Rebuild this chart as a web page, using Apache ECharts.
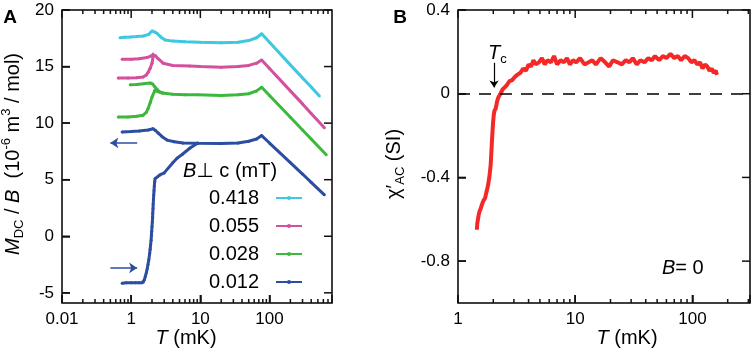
<!DOCTYPE html>
<html>
<head>
<meta charset="utf-8">
<script src="https://cdn.jsdelivr.net/npm/echarts@6/dist/echarts.min.js"></script>
<style>
  html, body { margin: 0; background: #fff; }
  #wrap { position: relative; width: 754px; height: 353px; }
  #chartA, #chartB { position: absolute; top: 0; width: 377px; height: 353px; }
  #chartA { left: 0; }
  #chartB { left: 377px; }
</style>
</head>
<body>
<div id="wrap"><div id="chartA"></div><div id="chartB"></div></div>
<script>
// ---- panel A: M_DC/B vs T, four fields ----
const fieldLabels = ["0.418", "0.055", "0.028", "0.012"];
const fieldColors = ["#3fc8e0", "#d4509e", "#3db83d", "#2b4ea2"];

const tCyan = [0.69, 0.8, 0.97, 1.2, 1.5, 1.8, 2.0, 2.2, 2.4, 2.7, 3.1, 4, 6, 10, 20, 35, 50, 65, 77, 100, 200, 300, 400, 525];
const vCyan = [17.55, 17.6, 17.62, 17.65, 17.7, 17.85, 18.15, 18.05, 17.9, 17.6, 17.35, 17.25, 17.2, 17.15, 17.1, 17.15, 17.3, 17.55, 17.9, 17.15, 15.15, 14.0, 13.2, 12.4];

const tMagUp = [0.74, 1.0, 1.3, 1.7, 1.95, 2.07, 2.25, 2.45, 2.9, 4, 7, 10, 20, 35, 50, 65, 77, 100, 200, 300, 400, 620];
const vMagUp = [15.65, 15.65, 15.7, 15.8, 15.95, 16.1, 15.95, 15.7, 15.3, 15.1, 15.05, 15.0, 14.95, 15.0, 15.1, 15.3, 15.58, 14.83, 12.85, 11.7, 10.85, 9.6];
const tMagLo = [0.65, 0.9, 1.2, 1.49, 1.65, 1.76, 1.88, 2.0, 2.07];
const vMagLo = [14.0, 14.0, 14.02, 14.08, 14.25, 14.5, 14.85, 15.3, 15.85];

const tGrnUp = [0.97, 1.2, 1.5, 1.88, 2.05, 2.2, 2.4, 2.6, 3, 4, 6, 9.2, 20, 35, 50, 65, 77, 100, 200, 300, 400, 660];
const vGrnUp = [13.4, 13.42, 13.48, 13.55, 13.45, 13.2, 12.95, 12.75, 12.65, 12.55, 12.5, 12.5, 12.45, 12.5, 12.6, 12.85, 13.17, 12.44, 10.52, 9.4, 8.6, 7.2];
const tGrnLo = [0.65, 0.9, 1.2, 1.49, 1.65, 1.76, 1.88, 2.0, 2.2, 2.4, 2.8];
const vGrnLo = [10.55, 10.55, 10.6, 10.7, 10.95, 11.3, 11.8, 12.3, 12.9, 12.8, 12.65];

const tBluUp = [0.74, 1.0, 1.3, 1.76, 2.07, 2.25, 2.45, 2.8, 3.3, 4.2, 5.6, 9.2, 20, 35, 50, 65, 77, 100, 200, 300, 400, 620];
const vBluUp = [9.22, 9.25, 9.3, 9.4, 9.5, 9.35, 9.13, 8.8, 8.5, 8.35, 8.25, 8.22, 8.2, 8.25, 8.4, 8.6, 8.9, 8.24, 6.51, 5.5, 4.77, 3.66];
const tBluLo = [0.74, 0.85, 1.0, 1.15, 1.3, 1.44, 1.5, 1.55, 1.6, 1.65, 1.7, 1.75, 1.8, 1.85, 1.88, 1.91, 1.94, 1.96, 1.98, 2.0, 2.02, 2.04, 2.05, 2.07, 2.08, 2.1, 2.12, 2.14, 2.16, 2.19, 2.22, 2.4, 2.6, 3.0, 4.0, 4.6, 5.5, 7.1, 9.2];
const vBluLo = [-4.15, -4.12, -4.1, -4.12, -4.12, -4.1, -4.05, -3.85, -3.55, -3.25, -2.9, -2.5, -2.05, -1.55, -1.15, -0.75, -0.35, 0.05, 0.45, 0.85, 1.25, 1.65, 2.05, 2.45, 2.85, 3.25, 3.65, 4.05, 4.45, 4.85, 5.1, 5.25, 5.42, 5.6, 6.5, 6.9, 7.25, 7.8, 8.25];

// arrows marking FC / ZFC branches
const arrowT = [0.5, 1.22];
const arrowLeftV = 8.25;
const arrowRightV = -2.8;

const xRangeA = [0.1, 800];
const yRangeA = [-5.9, 20];
const xTicksA = [0.1, 1, 10, 100];
const xLabelsA = ["0.01", "1", "10", "100"];
const xMinorA = [0.2, 0.3, 0.4, 0.5, 0.6, 0.7, 0.8, 0.9, 2, 3, 4, 5, 6, 7, 8, 9, 20, 30, 40, 50, 60, 70, 80, 90, 200, 300, 400, 500, 600, 700];
const yTicksA = [-5, 0, 5, 10, 15, 20];

// ---- panel B: chi'_AC vs T at B = 0 ----
const tChi = [1.45, 1.46, 1.48, 1.5, 1.53, 1.56, 1.6, 1.65, 1.7, 1.75, 1.8, 1.85, 1.9, 1.93, 1.96, 1.99, 2.02, 2.05, 2.1, 2.15, 2.2, 2.3, 2.4, 2.5, 2.6, 2.75, 2.9, 3.05, 3.2, 3.4, 3.6, 3.8, 4.0, 4.2, 4.4, 4.6, 4.9, 5.2, 5.5, 5.8, 6.2, 6.6, 7.0, 7.5, 8.0, 8.5, 9.0, 9.6, 10.2, 11, 12, 13, 14, 15, 16.5, 18, 19.5, 21, 23, 25, 27, 29, 31, 33.5, 36, 39, 42, 45, 48, 52, 56, 60, 65, 70, 75, 80, 86, 92, 98, 104, 110, 116, 122, 128, 134, 140, 146, 152, 158, 162];
const vChi = [-0.65, -0.62, -0.6, -0.58, -0.56, -0.55, -0.53, -0.51, -0.5, -0.47, -0.44, -0.4, -0.34, -0.27, -0.2, -0.14, -0.1, -0.08, -0.07, -0.04, -0.02, 0.0, 0.02, 0.03, 0.04, 0.06, 0.065, 0.08, 0.09, 0.1, 0.12, 0.11, 0.14, 0.13, 0.16, 0.14, 0.15, 0.17, 0.14, 0.16, 0.15, 0.18, 0.14, 0.16, 0.15, 0.17, 0.14, 0.16, 0.15, 0.17, 0.14, 0.15, 0.16, 0.14, 0.17, 0.15, 0.13, 0.16, 0.15, 0.14, 0.16, 0.15, 0.17, 0.14, 0.16, 0.15, 0.17, 0.16, 0.18, 0.16, 0.18, 0.17, 0.19, 0.17, 0.18, 0.16, 0.18, 0.17, 0.15, 0.16, 0.14, 0.15, 0.12, 0.14, 0.13, 0.11, 0.12, 0.1, 0.11, 0.09];

const tcArrowT = 2.03;
const tcArrowV = [0.148, 0.03];

const xRangeB = [1, 310];
const yRangeB = [-1.0, 0.4];
const xTicksB = [1, 10, 100];
const xLabelsB = ["1", "10", "100"];
const xMinorB = [2, 3, 4, 5, 6, 7, 8, 9, 20, 30, 40, 50, 60, 70, 80, 90, 200, 300];
const yTicksB = [-0.8, -0.4, 0, 0.4];

const FONT = '"Liberation Sans", Arial, "DejaVu Sans", sans-serif';
const BLACK = "#000";
const TICK = "#111";
const MAJOR = 8;
const MINOR = 4;
const TW = 1.5;

const pairs = (t, v) => t.map((x, i) => [x, v[i]]);

function labelFor(v, ticks, labels) {
  const i = ticks.findIndex((t) => Math.abs(Math.log10(t) - Math.log10(v)) < 1e-6);
  return i < 0 ? "" : labels[i];
}

function logAxis(range, ticks, labels) {
  return {
    type: "log", min: range[0], max: range[1],
    axisLine: { show: false, onZero: false },
    splitLine: { show: false },
    axisTick: { show: true, inside: true, length: MAJOR, lineStyle: { color: TICK, width: TW } },
    axisLabel: {
      color: BLACK, fontSize: 17, fontFamily: FONT, margin: 8,
      formatter: (v) => labelFor(v, ticks, labels),
    },
  };
}

function valAxis(range, ticks) {
  return {
    type: "value", min: range[0], max: range[1],
    axisLine: { show: false, onZero: false },
    splitLine: { show: false },
    axisTick: { show: true, inside: true, length: MAJOR, customValues: ticks, lineStyle: { color: TICK, width: TW } },
    axisLabel: {
      customValues: ticks, color: BLACK, fontSize: 17, fontFamily: FONT, margin: 8,
      formatter: (v) => String(v),
    },
  };
}

function fieldSeries(name, color, t, v, extra) {
  return Object.assign({
    name, type: "line",
    data: pairs(t, v),
    showSymbol: true, showAllSymbol: true, symbol: "circle", symbolSize: 3,
    itemStyle: { color },
    lineStyle: { color, width: 3 },
  }, extra || {});
}

// tick marks on all four sides, placed through the chart's own axes
function frameTicks(chart, xr, yr, xMajor, xMinor, yMajor) {
  const out = [];
  const px = (x, y) => chart.convertToPixel({ gridIndex: 0 }, [x, y]);
  const add = (x1, y1, x2, y2) => out.push({
    type: "line", z: 10, shape: { x1, y1, x2, y2 }, style: { stroke: TICK, lineWidth: TW },
  });
  const xTick = (t, len) => {
    const b = px(t, yr[0]);
    const u = px(t, yr[1]);
    add(b[0], b[1], b[0], b[1] - len);
    add(u[0], u[1], u[0], u[1] + len);
  };
  xMajor.forEach((t) => xTick(t, MAJOR));
  xMinor.forEach((t) => xTick(t, MINOR));
  yMajor.forEach((v) => {
    const l = px(xr[0], v);
    const r = px(xr[1], v);
    add(l[0], l[1], l[0] + MAJOR, l[1]);
    add(r[0], r[1], r[0] - MAJOR, r[1]);
  });
  return out;
}

const sub = { fontSize: 13, fontFamily: FONT, color: BLACK, lineHeight: 13, verticalAlign: "bottom" };
const sup = { fontSize: 13, fontFamily: FONT, color: BLACK, lineHeight: 13, verticalAlign: "top" };
const n20 = { fontSize: 20, fontFamily: FONT, color: BLACK, lineHeight: 26, verticalAlign: "middle" };
const i20 = Object.assign({}, n20, { fontStyle: "italic" });

// ---------- chart A ----------
const chartA = echarts.init(document.getElementById("chartA"));
chartA.setOption({
  animation: false,
  grid: { left: 62, top: 10, width: 270, height: 293, show: true, borderColor: BLACK, borderWidth: 1.5 },
  xAxis: logAxis(xRangeA, xTicksA, xLabelsA),
  yAxis: valAxis(yRangeA, yTicksA),
  legend: {
    data: fieldLabels,
    orient: "vertical", align: "right",
    right: 74, top: 188, padding: 0,
    itemWidth: 26, itemHeight: 5, itemGap: 8,
    selectedMode: false,
    lineStyle: { width: 2 },
    textStyle: { fontSize: 20, color: BLACK, fontFamily: FONT, padding: [0, 12, 0, 0] },
  },
  series: [
    fieldSeries(fieldLabels[0], fieldColors[0], tCyan, vCyan),
    fieldSeries(fieldLabels[1], fieldColors[1], tMagUp, vMagUp),
    fieldSeries(fieldLabels[1], fieldColors[1], tMagLo, vMagLo),
    fieldSeries(fieldLabels[2], fieldColors[2], tGrnUp, vGrnUp),
    fieldSeries(fieldLabels[2], fieldColors[2], tGrnLo, vGrnLo),
    fieldSeries(fieldLabels[3], fieldColors[3], tBluUp, vBluUp),
    fieldSeries(fieldLabels[3], fieldColors[3], tBluLo, vBluLo, {
      markLine: {
        silent: true, animation: false, symbol: ["none", "none"], symbolSize: 8,
        label: { show: false },
        lineStyle: { color: fieldColors[3], width: 1.5, type: "solid" },
        data: [
          [{ coord: [arrowT[0], arrowLeftV], symbol: "arrow" }, { coord: [arrowT[1], arrowLeftV], symbol: "none" }],
          [{ coord: [arrowT[0], arrowRightV], symbol: "none" }, { coord: [arrowT[1], arrowRightV], symbol: "arrow" }],
        ],
      },
    }),
  ],
});
chartA.setOption({
  graphic: [
    { type: "text", x: 10, y: 18, style: { text: "A", font: "bold 19px " + FONT, fill: BLACK, align: "center", verticalAlign: "middle" } },
    {
      type: "text", x: 13, y: 154, rotation: Math.PI / 2,
      style: {
        text: "{i|M}{s|DC}{n| / }{i|B}{n|  (10}{p|-6}{n| m}{p|3}{n| / mol)}",
        rich: { i: i20, n: n20, s: sub, p: sup }, align: "center", verticalAlign: "middle",
      },
    },
    { type: "text", x: 186, y: 338, style: { text: "{i|T}{n| (mK)}", rich: { i: i20, n: n20 }, align: "center", verticalAlign: "middle" } },
    { type: "text", x: 183, y: 171, style: { text: "{i|B}{n|\u22a5 c (mT)}", rich: { i: i20, n: n20 }, align: "left", verticalAlign: "middle" } },
  ].concat(frameTicks(chartA, xRangeA, yRangeA, xTicksA, xMinorA, yTicksA)),
});

// ---------- chart B ----------
const chartB = echarts.init(document.getElementById("chartB"));
chartB.setOption({
  animation: false,
  grid: { left: 81, top: 10, width: 292, height: 293, show: true, borderColor: BLACK, borderWidth: 1.5 },
  xAxis: logAxis(xRangeB, xTicksB, xLabelsB),
  yAxis: valAxis(yRangeB, yTicksB),
  series: [
    {
      name: "chi", type: "line",
      data: pairs(tChi, vChi),
      showSymbol: false,
      lineStyle: { color: "#f52828", width: 4 },
      itemStyle: { color: "#f52828" },
      markLine: {
        silent: true, animation: false, symbol: ["none", "none"], symbolSize: 7,
        label: { show: false },
        data: [
          { yAxis: 0, lineStyle: { color: BLACK, width: 1.5, type: [12, 9] } },
          [
            { coord: [tcArrowT, tcArrowV[0]], symbol: "none", lineStyle: { color: BLACK, width: 1.2, type: "solid" } },
            { coord: [tcArrowT, tcArrowV[1]], symbol: "arrow" },
          ],
        ],
      },
    },
  ],
});
chartB.setOption({
  graphic: [
    { type: "text", x: 23, y: 18, style: { text: "B", font: "bold 19px " + FONT, fill: BLACK, align: "center", verticalAlign: "middle" } },
    {
      type: "text", x: 17, y: 164, rotation: Math.PI / 2,
      style: {
        text: "{n|\u03c7\u2032}{s|AC}{n| (SI)}",
        rich: { n: n20, s: sub }, align: "center", verticalAlign: "middle",
      },
    },
    { type: "text", x: 250, y: 338, style: { text: "{i|T}{n| (mK)}", rich: { i: i20, n: n20 }, align: "center", verticalAlign: "middle" } },
    { type: "text", x: 111, y: 53, style: { text: "{i|T}{s|c}", rich: { i: i20, s: sub }, align: "left", verticalAlign: "middle" } },
    { type: "text", x: 285, y: 268, style: { text: "{i|B}{n|= 0}", rich: { i: i20, n: n20 }, align: "left", verticalAlign: "middle" } },
  ].concat(frameTicks(chartB, xRangeB, yRangeB, xTicksB, xMinorB, yTicksB)),
});
</script>
</body>
</html>
